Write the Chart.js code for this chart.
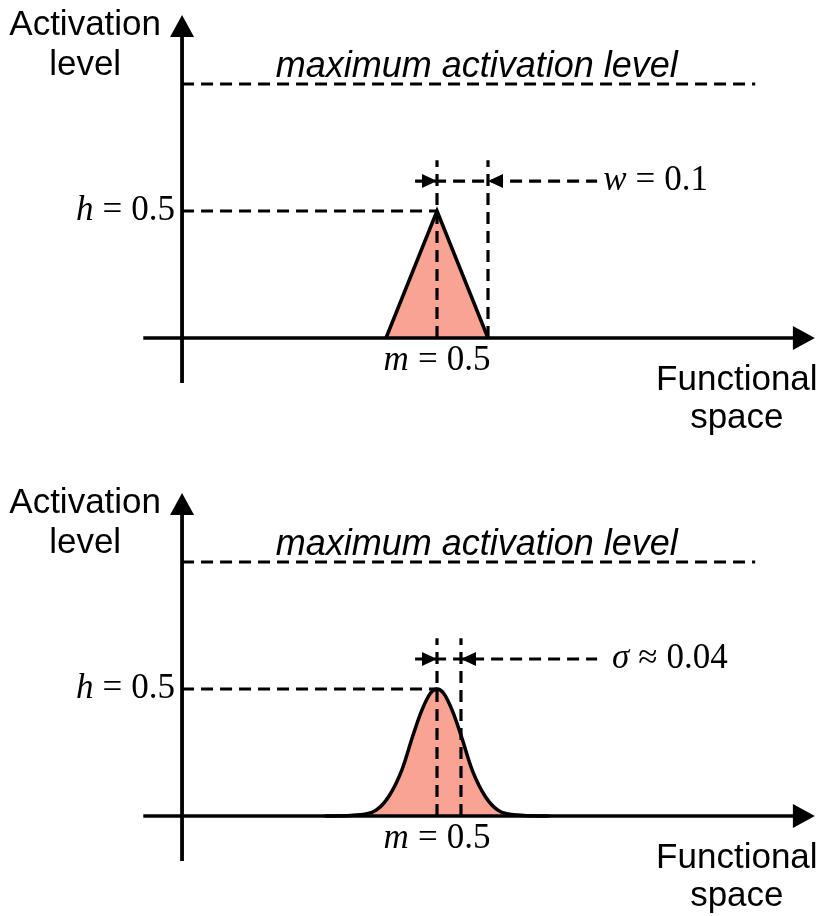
<!DOCTYPE html>
<html><head><meta charset="utf-8">
<script src="https://cdn.jsdelivr.net/npm/chart.js@4"></script>
<style>body{margin:0;background:#fff}canvas{display:block}</style>
</head><body>
<canvas id="c1" width="822" height="458"></canvas>
<canvas id="c2" width="822" height="458"></canvas>
<script>
// ---- data ----
const triangleX = [0.4, 0.5, 0.6];
const triangleY = [0, 0.5, 0];
const gaussX = [0.28, 0.33, 0.36, 0.38, 0.405, 0.431, 0.452, 0.469, 0.487, 0.5, 0.513, 0.531, 0.548, 0.569, 0.595, 0.62, 0.64, 0.67, 0.72];
const gaussY = [0, 0.002, 0.008, 0.022, 0.076, 0.181, 0.312, 0.41, 0.483, 0.5, 0.483, 0.41, 0.312, 0.181, 0.076, 0.022, 0.008, 0.002, 0];
const peakM = 0.5;          // m
const peakH = 0.5;          // h
const maxActivation = 1.0;  // maximum activation level
const widthEdgeTri = 0.6;   // m + w
const widthEdgeGauss = 0.547; // m + sigma (as drawn)
const axisXRange = [-0.076, 1.241];
const axisYRange = [-0.177, 1.272];
const maxLineEnd = 1.124;
const markerY = 0.618;
const markerStart = 0.457;
const markerEnd = 0.814;
const guideTop = 0.70;
const panelLabels = {
  yTitle: ['Activation', 'level'],
  xTitle: ['Functional', 'space'],
  maxText: 'maximum activation level',
  h: ['h', '=', '0.5'],
  m: ['m', '=', '0.5'],
  w: ['w', '=', '0.1'],
  s: ['σ', '≈', '0.04']
};

const SANS = '"Liberation Sans", Arial, sans-serif';
const SERIF = '"Liberation Serif", "Times New Roman", serif';
const FS = 35, FSI = 36, MS = 35;

const overlay = {
  id: 'overlay',
  afterDatasetsDraw(chart, args, opts) {
    const {ctx} = chart;
    const xs = chart.scales.x, ys = chart.scales.y;
    const px = v => xs.getPixelForValue(v), py = v => ys.getPixelForValue(v);
    ctx.save();
    ctx.fillStyle = '#000';
    for (const a of opts.arrows) {
      const tx = px(a.x), ty = py(a.y);
      const [dx, dy] = {right: [1, 0], left: [-1, 0], up: [0, -1]}[a.dir];
      const L = a.len, W = a.half;
      ctx.beginPath();
      ctx.moveTo(tx, ty);
      ctx.lineTo(tx - dx * L - dy * W, ty - dy * L + dx * W);
      ctx.lineTo(tx - dx * L + dy * W, ty - dy * L - dx * W);
      ctx.closePath();
      ctx.fill();
    }
    ctx.textBaseline = 'middle';
    for (const t of opts.texts) {
      const widths = t.runs.map(r => { ctx.font = r.font; return ctx.measureText(r.t).width + (r.gap || 0); });
      const total = widths.reduce((s, v) => s + v, 0) - (t.runs[t.runs.length - 1].gap || 0);
      let sx = px(t.x) - (t.align === 'center' ? total / 2 : t.align === 'right' ? total : 0);
      const sy = py(t.y) + (t.dy || 0);
      t.runs.forEach((r, i) => { ctx.font = r.font; ctx.fillText(r.t, sx, sy); sx += widths[i]; });
    }
    ctx.restore();
  }
};

function mathRuns(parts) {
  const g = 9;
  return [
    {t: parts[0], font: `italic ${MS}px ${SERIF}`, gap: g},
    {t: parts[1], font: `${MS}px ${SERIF}`, gap: g},
    {t: parts[2], font: `${MS}px ${SERIF}`}
  ];
}

function seg(x0, y0, x1, y1, dashed, w) {
  return {
    data: [{x: x0, y: y0}, {x: x1, y: y1}],
    showLine: true, borderColor: '#000', borderWidth: w || (dashed ? 3.2 : 3.5),
    borderDash: dashed ? [12, 7] : [], pointRadius: 0, fill: false, order: 1,
    borderCapStyle: 'butt'
  };
}

function makeChart(id, shapeX, shapeY, smooth, edgeX, yMin, yMax, label) {
  const shape = {
    data: shapeX.map((v, i) => ({x: v, y: shapeY[i]})),
    showLine: true, borderColor: '#000', borderWidth: 3.5,
    backgroundColor: '#F9A393', fill: 'origin', pointRadius: 0,
    cubicInterpolationMode: smooth ? 'monotone' : 'default', tension: 0,
    borderJoinStyle: 'miter', order: 5
  };
  const datasets = [
    shape,
    seg(0, axisYRange[0], 0, axisYRange[1] - 0.07, false, 3.8),
    seg(axisXRange[0], 0, axisXRange[1] - 0.03, 0, false, 3.5),
    seg(0, maxActivation, maxLineEnd, maxActivation, true),
    seg(0, peakH, peakM, peakH, true),
    seg(peakM, 0, peakM, guideTop, true),
    seg(edgeX, 0, edgeX, guideTop, true),
    seg(markerStart, markerY, markerEnd, markerY, true)
  ];
  const texts = [
    {x: -0.19, y: 1.232, align: 'center', runs: [{t: panelLabels.yTitle[0], font: `${FS}px ${SANS}`}]},
    {x: -0.19, y: 1.075, align: 'center', runs: [{t: panelLabels.yTitle[1], font: `${FS}px ${SANS}`}]},
    {x: 1.088, y: -0.168, align: 'center', runs: [{t: panelLabels.xTitle[0], font: `${FS}px ${SANS}`}]},
    {x: 1.088, y: -0.318, align: 'center', runs: [{t: panelLabels.xTitle[1], font: `${FS}px ${SANS}`}]},
    {x: 0.578, y: 1.066, align: 'center', runs: [{t: panelLabels.maxText, font: `italic ${FSI}px ${SANS}`}]},
    {x: -0.014, y: peakH, align: 'right', runs: mathRuns(panelLabels.h)},
    {x: peakM, y: -0.09, align: 'center', runs: mathRuns(panelLabels.m)},
    {x: label === 'w' ? 0.826 : 0.843, y: markerY, align: 'left', runs: mathRuns(panelLabels[label])}
  ];
  const arrows = [
    {x: 0, y: axisYRange[1], dir: 'up', len: 22, half: 12},
    {x: axisXRange[1], y: 0, dir: 'right', len: 22, half: 12},
    {x: peakM, y: markerY, dir: 'right', len: 15, half: 7},
    {x: edgeX, y: markerY, dir: 'left', len: 15, half: 7}
  ];
  return new Chart(document.getElementById(id), {
    type: 'scatter',
    data: {datasets},
    options: {
      responsive: false, animation: false, devicePixelRatio: 1,
      layout: {padding: 0},
      plugins: {legend: {display: false}, tooltip: {enabled: false}, overlay: {texts, arrows}},
      scales: {
        x: {type: 'linear', min: -0.357, max: 1.255, display: false},
        y: {type: 'linear', min: yMin, max: yMax, display: false}
      }
    },
    plugins: [overlay]
  });
}

makeChart('c1', triangleX, triangleY, false, widthEdgeTri, -0.4724, 1.3307, 'w');
makeChart('c2', gaussX, gaussY, true, widthEdgeGauss, -0.3937, 1.4094, 's');
</script>
</body></html>
